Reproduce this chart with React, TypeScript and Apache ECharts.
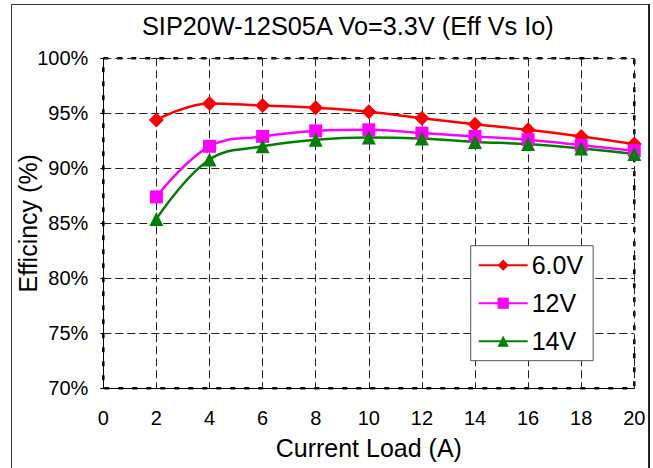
import React, { useEffect, useRef } from "react";
import * as echarts from "echarts";

const loadA = [2, 4, 6, 8, 10, 12, 14, 16, 18, 20];
const eff6V = [94.4, 95.9, 95.7, 95.5, 95.15, 94.55, 94.0, 93.5, 92.9, 92.2];
const eff12V = [87.4, 92.0, 92.9, 93.4, 93.5, 93.2, 92.9, 92.6, 92.1, 91.6];
const eff14V = [85.4, 90.8, 92.0, 92.6, 92.8, 92.7, 92.4, 92.2, 91.8, 91.3];
const seriesNames = ["6.0V", "12V", "14V"];
const titleText = "SIP20W-12S05A Vo=3.3V (Eff Vs Io)";

const FONT = "'Liberation Sans', Arial, Helvetica, sans-serif";

export default function App() {
  const ref = useRef<HTMLDivElement>(null);
  useEffect(() => {
    if (!ref.current) return;
    const chart = echarts.init(ref.current, undefined, { renderer: "svg" });
    const pair = (vals: number[]) => loadA.map((x, i) => [x, vals[i]]);
    const mk = (name: string, vals: number[], color: string, symbol: string, size: number) => ({
      name,
      type: "line",
      data: pair(vals),
      smooth: 0.4,
      symbol,
      symbolSize: size,
      itemStyle: { color },
      lineStyle: { color, width: 2.5 },
    });
    chart.setOption({
      animation: false,
      backgroundColor: "#fff",
      textStyle: { fontFamily: FONT },
      title: {
        text: titleText,
        left: 142,
        top: 13,
        padding: 0,
        textStyle: { fontFamily: FONT, fontSize: 25.3, fontWeight: "normal", color: "#000" },
      },
      graphic: [
        {
          type: "rect",
          shape: { x: 11.5, y: 4.5, width: 637, height: 500 },
          style: { fill: "none", stroke: "#333", lineWidth: 1 },
          silent: true,
        },
        {
          type: "line",
          shape: { x1: 649, y1: 4, x2: 649, y2: 468 },
          style: { stroke: "#222", lineWidth: 2 },
          silent: true,
        },
      ],
      legend: {
        data: seriesNames,
        orient: "vertical",
        left: 470.7,
        top: 245.7,
        backgroundColor: "#fff",
        borderColor: "#555",
        borderWidth: 1,
        borderRadius: 0,
        padding: [7, 10, 7, 7],
        itemWidth: 49,
        itemHeight: 14,
        itemGap: 13,
        textStyle: { fontFamily: FONT, fontSize: 25, color: "#000", padding: [0, 0, 0, -1] },
      },
      grid: {
        left: 103.3,
        right: 653 - 634.3,
        top: 58.3,
        bottom: 468 - 388.3,
        containLabel: false,
        outerBoundsMode: "none",
        show: true,
        borderColor: "#000",
        borderWidth: 2.5,
        borderType: [5, 9],
        backgroundColor: "transparent",
      },
      xAxis: {
        type: "value",
        min: 0,
        max: 20,
        interval: 2,
        name: "Current Load (A)",
        nameLocation: "middle",
        nameGap: 47,
        nameMoveOverlap: false,
        nameTextStyle: { fontFamily: FONT, fontSize: 25, color: "#000" },
        axisLine: { show: true, onZero: false, lineStyle: { color: "#000", width: 1 } },
        axisTick: { show: false },
        axisLabel: { fontFamily: FONT, fontSize: 20, color: "#000", margin: 20 },
        splitLine: { show: true, lineStyle: { color: "#222", width: 1, type: [8, 4] } },
      },
      yAxis: {
        type: "value",
        min: 70,
        max: 100,
        interval: 5,
        name: "Efficincy (%)",
        nameLocation: "middle",
        nameGap: 63,
        nameMoveOverlap: false,
        nameTextStyle: { fontFamily: FONT, fontSize: 25, color: "#000" },
        axisLine: { show: true, lineStyle: { color: "#000", width: 1 } },
        axisTick: { show: true, length: 3, lineStyle: { color: "#000" } },
        axisLabel: { fontFamily: FONT, fontSize: 20, color: "#000", margin: 15, formatter: (v: number) => `${v}%` },
        splitLine: { show: true, lineStyle: { color: "#222", width: 1, type: [8, 4] } },
      },
      series: [
        mk(seriesNames[0], eff6V, "#ff0000", "diamond", 15),
        mk(seriesNames[1], eff12V, "#ff00ff", "rect", 13),
        mk(seriesNames[2], eff14V, "#008000", "triangle", 14),
      ],
    });
    return () => chart.dispose();
  }, []);
  return <div ref={ref} style={{ position: "fixed", left: 0, top: 0, width: 653, height: 468 }} />;
}
